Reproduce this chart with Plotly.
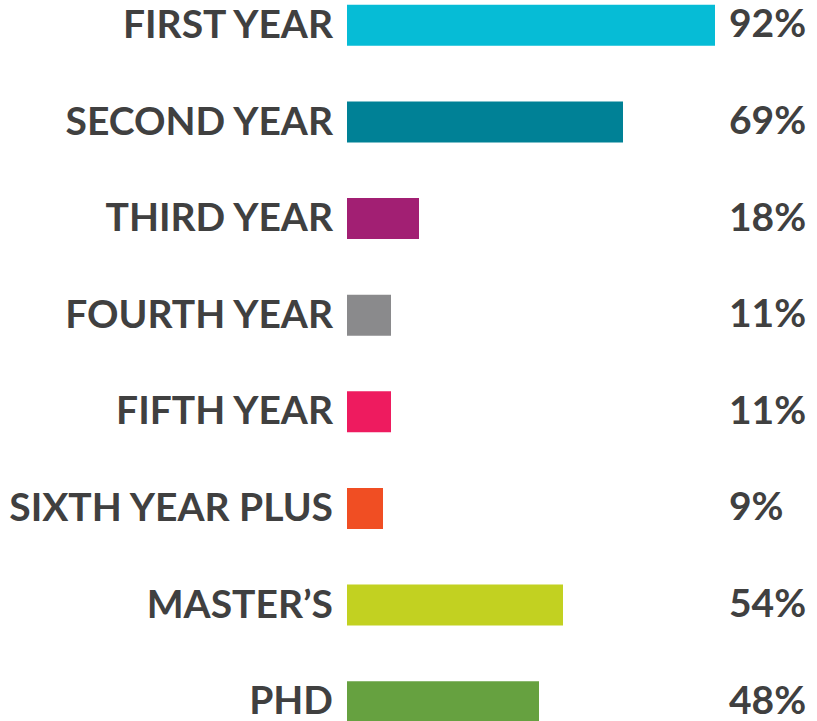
import plotly.graph_objects as go

categories = ["FIRST YEAR", "SECOND YEAR", "THIRD YEAR", "FOURTH YEAR",
              "FIFTH YEAR", "SIXTH YEAR PLUS", "MASTER\u2019S", "PHD"]
values = [92, 69, 18, 11, 11, 9, 54, 48]
value_labels = ["92%", "69%", "18%", "11%", "11%", "9%", "54%", "48%"]
colors = ["#06BCD6", "#008196", "#A21F73", "#8A8A8C",
          "#EE1B5F", "#F04E23", "#C2D121", "#66A140"]

FONT = "Lato"
TEXT_COLOR = "#404040"
SIZE = 39

idx = list(range(len(categories)))

fig = go.Figure()
fig.add_trace(go.Bar(
    x=values, y=idx, orientation="h",
    marker=dict(color=colors, line=dict(width=0)),
    width=0.425, hoverinfo="skip",
))

for i, lab in enumerate(value_labels):
    fig.add_annotation(x=95, y=i, text=lab, xanchor="left", yanchor="middle",
                       showarrow=False, yshift=3,
                       font=dict(family=FONT, size=SIZE, color=TEXT_COLOR, weight="bold"))

fig.update_layout(
    width=817, height=721,
    margin=dict(l=347, r=10, t=0, b=0, autoexpand=False),
    paper_bgcolor="white", plot_bgcolor="white",
    showlegend=False,
    xaxis=dict(range=[0, 115], visible=False, fixedrange=True, automargin=False),
    yaxis=dict(range=[7.2, -0.262], tickvals=idx, ticktext=categories,
               showgrid=False, zeroline=False, showline=False, ticks="",
               automargin=False, ticklabelstandoff=13, ticklabeloverflow="allow",
               ticklabelshift=1, fixedrange=True,
               tickfont=dict(family=FONT, size=SIZE, color=TEXT_COLOR, weight="bold")),
)

fig.write_html("out.html", config={"displayModeBar": False, "staticPlot": True},
               post_script="document.body.style.margin='0';")
